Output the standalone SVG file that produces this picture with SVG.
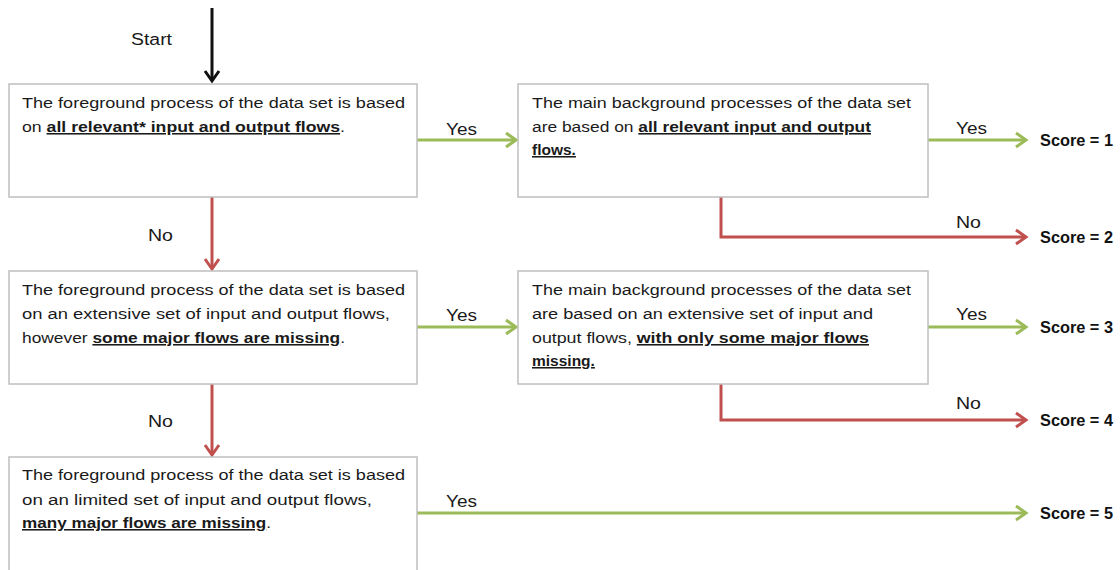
<svg xmlns="http://www.w3.org/2000/svg" width="1120" height="570" viewBox="0 0 1120 570">
  <defs>
    <style>
      .box { fill: #ffffff; stroke: #bfbfbf; stroke-width: 1.5; }
      .txt { font-family: "Liberation Sans", Arial, sans-serif; font-size: 15.5px; fill: #1a1a1a; }
      .b { font-weight: bold; text-decoration: underline; }
      .lbl { font-family: "Liberation Sans", Arial, sans-serif; font-size: 16px; fill: #1a1a1a; }
      .score { font-family: "Liberation Sans", Arial, sans-serif; font-size: 16px; font-weight: bold; fill: #111111; }
      .yes { fill: none; stroke: #9bbb59; stroke-width: 3; }
      .no { fill: none; stroke: #c0504d; stroke-width: 3; }
      .start { fill: none; stroke: #111111; stroke-width: 3; }
    </style>
    <marker id="headYes" markerUnits="userSpaceOnUse" markerWidth="16" markerHeight="18" refX="12" refY="9" orient="auto" overflow="visible">
      <path d="M2,2 L12,9 L2,16" fill="none" stroke="#9bbb59" stroke-width="3"/>
    </marker>
    <marker id="headNo" markerUnits="userSpaceOnUse" markerWidth="16" markerHeight="18" refX="12" refY="9" orient="auto" overflow="visible">
      <path d="M2,2 L12,9 L2,16" fill="none" stroke="#c0504d" stroke-width="3"/>
    </marker>
    <marker id="headStart" markerUnits="userSpaceOnUse" markerWidth="16" markerHeight="18" refX="12" refY="9" orient="auto" overflow="visible">
      <path d="M2,2 L12,9 L2,16" fill="none" stroke="#111111" stroke-width="3"/>
    </marker>
  </defs>

  <rect width="1120" height="570" fill="#ffffff"/>

  <!-- connectors -->
  <g id="connectors">
    <line class="start" x1="212" y1="8" x2="212" y2="81" marker-end="url(#headStart)"/>
    <line class="no" x1="212" y1="197" x2="212" y2="269" marker-end="url(#headNo)"/>
    <line class="no" x1="212" y1="384" x2="212" y2="455" marker-end="url(#headNo)"/>
    <line class="yes" x1="417" y1="140" x2="516" y2="140" marker-end="url(#headYes)"/>
    <line class="yes" x1="417" y1="327" x2="516" y2="327" marker-end="url(#headYes)"/>
    <line class="yes" x1="417" y1="513" x2="1026" y2="513" marker-end="url(#headYes)"/>
    <line class="yes" x1="928" y1="140" x2="1026" y2="140" marker-end="url(#headYes)"/>
    <line class="yes" x1="928" y1="327" x2="1026" y2="327" marker-end="url(#headYes)"/>
    <polyline class="no" points="721,197 721,237 1026,237" marker-end="url(#headNo)"/>
    <polyline class="no" points="721,384 721,420 1026,420" marker-end="url(#headNo)"/>
  </g>

  <!-- connector labels -->
  <g id="labels">
    <text class="lbl" x="131" y="45" textLength="41" lengthAdjust="spacingAndGlyphs">Start</text>
    <text class="lbl" x="148" y="241" textLength="25" lengthAdjust="spacingAndGlyphs">No</text>
    <text class="lbl" x="148" y="427" textLength="25" lengthAdjust="spacingAndGlyphs">No</text>
    <text class="lbl" x="446" y="135" textLength="31" lengthAdjust="spacingAndGlyphs">Yes</text>
    <text class="lbl" x="446" y="321" textLength="31" lengthAdjust="spacingAndGlyphs">Yes</text>
    <text class="lbl" x="446" y="507" textLength="31" lengthAdjust="spacingAndGlyphs">Yes</text>
    <text class="lbl" x="956" y="134" textLength="31" lengthAdjust="spacingAndGlyphs">Yes</text>
    <text class="lbl" x="956" y="320" textLength="31" lengthAdjust="spacingAndGlyphs">Yes</text>
    <text class="lbl" x="956" y="228" textLength="25" lengthAdjust="spacingAndGlyphs">No</text>
    <text class="lbl" x="956" y="409" textLength="25" lengthAdjust="spacingAndGlyphs">No</text>
  </g>

  <!-- foreground: all flows -->
  <g id="fg1">
    <rect class="box" x="9" y="84" width="408" height="113"/>
    <text class="txt" x="22" y="108" textLength="383" lengthAdjust="spacingAndGlyphs">The foreground process of the data set is based</text>
    <text class="txt" x="22" y="132" textLength="323" lengthAdjust="spacingAndGlyphs">on <tspan class="b">all relevant* input and output  flows</tspan>.</text>
  </g>

  <!-- background: all flows -->
  <g id="bg1">
    <rect class="box" x="518" y="84" width="410" height="113"/>
    <text class="txt" x="532" y="108" textLength="379" lengthAdjust="spacingAndGlyphs">The main background processes of the data set</text>
    <text class="txt" x="532" y="132" textLength="339" lengthAdjust="spacingAndGlyphs">are based on <tspan class="b">all relevant input and output</tspan></text>
    <text class="txt" x="532" y="155"><tspan class="b">flows.</tspan></text>
  </g>

  <!-- foreground: extensive set -->
  <g id="fg2">
    <rect class="box" x="9" y="271" width="408" height="113"/>
    <text class="txt" x="22" y="295" textLength="383" lengthAdjust="spacingAndGlyphs">The foreground process of the data set is based</text>
    <text class="txt" x="22" y="319" textLength="368" lengthAdjust="spacingAndGlyphs">on an extensive set of input and output flows,</text>
    <text class="txt" x="22" y="343" textLength="323" lengthAdjust="spacingAndGlyphs">however <tspan class="b">some major flows are missing</tspan>.</text>
  </g>

  <!-- background: extensive set -->
  <g id="bg2">
    <rect class="box" x="518" y="271" width="410" height="113"/>
    <text class="txt" x="532" y="295" textLength="379" lengthAdjust="spacingAndGlyphs">The main background processes of the data set</text>
    <text class="txt" x="532" y="319" textLength="341" lengthAdjust="spacingAndGlyphs">are based on an extensive set of input and</text>
    <text class="txt" x="532" y="343" textLength="337" lengthAdjust="spacingAndGlyphs">output flows, <tspan class="b">with only some major flows</tspan></text>
    <text class="txt" x="532" y="366"><tspan class="b">missing.</tspan></text>
  </g>

  <!-- foreground: limited set -->
  <g id="fg3">
    <rect class="box" x="9" y="457" width="408" height="120"/>
    <text class="txt" x="22" y="480" textLength="383" lengthAdjust="spacingAndGlyphs">The foreground process of the data set is based</text>
    <text class="txt" x="22" y="505" textLength="350" lengthAdjust="spacingAndGlyphs">on an limited set of input and output flows,</text>
    <text class="txt" x="22" y="528" textLength="249" lengthAdjust="spacingAndGlyphs"><tspan class="b">many major flows are missing</tspan>.</text>
  </g>

  <!-- scores -->
  <g id="score1"><text class="score" x="1040" y="146" textLength="73" lengthAdjust="spacingAndGlyphs">Score = 1</text></g>
  <g id="score2"><text class="score" x="1040" y="243" textLength="73" lengthAdjust="spacingAndGlyphs">Score = 2</text></g>
  <g id="score3"><text class="score" x="1040" y="333" textLength="73" lengthAdjust="spacingAndGlyphs">Score = 3</text></g>
  <g id="score4"><text class="score" x="1040" y="426" textLength="73" lengthAdjust="spacingAndGlyphs">Score = 4</text></g>
  <g id="score5"><text class="score" x="1040" y="519" textLength="73" lengthAdjust="spacingAndGlyphs">Score = 5</text></g>
</svg>
